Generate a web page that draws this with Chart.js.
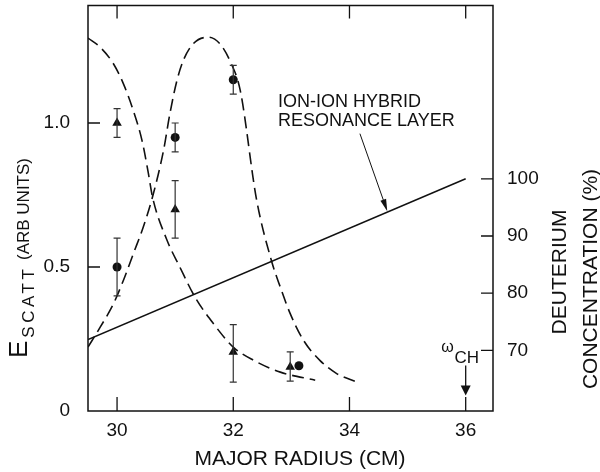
<!DOCTYPE html>
<html>
<head>
<meta charset="utf-8">
<script src="https://cdn.jsdelivr.net/npm/chart.js@4"></script>
<style>
  body { margin: 0; background: #fff; }
  canvas { display: block; }
</style>
</head>
<body>
<canvas id="chart" width="600" height="472"></canvas>
<script>
// tick values
const radiusTicks = [30, 32, 34, 36];
const escattTicks = [0, 0.5, 1.0];
const deutTicks = [70, 80, 90, 100];

// dashed curve falling from the left
const fallRadius = [29.5, 29.71, 29.94, 30.11, 30.28, 30.43, 30.54, 30.61, 30.86, 31.08, 31.34, 31.66, 32.0, 32.35, 32.81, 33.41];
const fallEscatt = [1.295, 1.263, 1.205, 1.136, 1.043, 0.939, 0.824, 0.743, 0.593, 0.5, 0.396, 0.303, 0.222, 0.176, 0.135, 0.107];

// dashed curve with the peak
const peakRadius = [29.5, 29.71, 29.94, 30.11, 30.28, 30.45, 30.61, 30.8, 30.91, 31.03, 31.14, 31.31, 31.57, 31.77, 31.94, 32.12, 32.4, 32.66, 32.81, 32.98, 33.21, 33.49, 33.78, 34.13];
const peakEscatt = [0.222, 0.291, 0.373, 0.454, 0.546, 0.638, 0.743, 0.905, 1.033, 1.147, 1.217, 1.275, 1.298, 1.275, 1.217, 1.113, 0.735, 0.52, 0.43, 0.338, 0.245, 0.176, 0.13, 0.10];

// solid line: deuterium concentration (right axis)
const deutRadius = [29.5, 36];
const deutConc = [71.9, 100];

// measured points
const circleRadius = [30, 31, 32, 33.13];
const circleEscatt = [0.50, 0.95, 1.15, 0.157];
const circleLow = [0.40, 0.90, 1.10, null];
const circleHigh = [0.60, 1.00, 1.20, null];

const triRadius = [30, 31, 32, 32.98];
const triEscatt = [1.00, 0.70, 0.205, 0.153];
const triLow = [0.95, 0.60, 0.10, 0.104];
const triHigh = [1.05, 0.80, 0.30, 0.205];

const ink = "#111";
const FONT = "'Liberation Sans', Arial, sans-serif";

const pts = (xs, ys) => xs.map((x, i) => ({ x: x, y: ys[i] }));

function arrow(ctx, x1, y1, x2, y2, len, half) {
    const a = Math.atan2(y2 - y1, x2 - x1);
    ctx.beginPath();
    ctx.moveTo(x1, y1);
    ctx.lineTo(x2 - Math.cos(a) * len * 0.8, y2 - Math.sin(a) * len * 0.8);
    ctx.stroke();
    ctx.beginPath();
    ctx.moveTo(x2, y2);
    ctx.lineTo(x2 - Math.cos(a) * len - Math.sin(a) * half, y2 - Math.sin(a) * len + Math.cos(a) * half);
    ctx.lineTo(x2 - Math.cos(a) * len + Math.sin(a) * half, y2 - Math.sin(a) * len - Math.cos(a) * half);
    ctx.closePath();
    ctx.fill();
}

const decor = {
    id: "decor",
    afterDatasetsDraw(chart) {
        const ctx = chart.ctx;
        const sx = chart.scales.x, sl = chart.scales.yL;
        ctx.save();
        ctx.strokeStyle = "#333";
        ctx.lineWidth = 1.2;
        const bars = (xs, lo, hi) => {
            xs.forEach((r, i) => {
                if (lo[i] == null) return;
                const px = sx.getPixelForValue(r);
                const y1 = sl.getPixelForValue(lo[i]);
                const y2 = sl.getPixelForValue(hi[i]);
                ctx.beginPath();
                ctx.moveTo(px, y1); ctx.lineTo(px, y2);
                ctx.moveTo(px - 3.5, y1); ctx.lineTo(px + 3.5, y1);
                ctx.moveTo(px - 3.5, y2); ctx.lineTo(px + 3.5, y2);
                ctx.stroke();
            });
        };
        bars(circleRadius, circleLow, circleHigh);
        bars(triRadius, triLow, triHigh);
        ctx.restore();
    },
    afterDraw(chart) {
        const ctx = chart.ctx;
        const { left, right, top, bottom } = chart.chartArea;
        const sx = chart.scales.x, sl = chart.scales.yL, sr = chart.scales.yR;
        ctx.save();
        ctx.strokeStyle = ink;
        ctx.fillStyle = ink;
        ctx.lineWidth = 1.5;
        ctx.strokeRect(left, top, right - left, bottom - top);

        // inward ticks
        ctx.lineWidth = 1.3;
        ctx.beginPath();
        radiusTicks.forEach(v => {
            const px = sx.getPixelForValue(v);
            ctx.moveTo(px, bottom); ctx.lineTo(px, bottom - 14);
            ctx.moveTo(px, top); ctx.lineTo(px, top + 13);
        });
        escattTicks.slice(1).forEach(v => {
            const py = sl.getPixelForValue(v);
            ctx.moveTo(left, py); ctx.lineTo(left + 12, py);
        });
        deutTicks.forEach(v => {
            const py = sr.getPixelForValue(v);
            ctx.moveTo(right, py); ctx.lineTo(right - 12, py);
        });
        ctx.stroke();

        // x title
        ctx.textAlign = "center";
        ctx.textBaseline = "alphabetic";
        ctx.font = "21px " + FONT;
        ctx.fillText("MAJOR RADIUS (CM)", 300, 465);

        // left title, rotated
        ctx.save();
        ctx.translate(27, 358);
        ctx.rotate(-Math.PI / 2);
        ctx.textAlign = "left";
        ctx.font = "26px " + FONT;
        ctx.fillText("E", 0, 0);
        let w = ctx.measureText("E").width + 3;
        ctx.font = "17px " + FONT;
        ctx.letterSpacing = "3.5px";
        ctx.fillText("SCATT", w, 7);
        ctx.letterSpacing = "0px";
        ctx.font = "17px " + FONT;
        ctx.fillText("(ARB UNITS)", 98, 2);
        ctx.restore();

        // right title, rotated
        ctx.save();
        ctx.rotate(-Math.PI / 2);
        ctx.textAlign = "center";
        ctx.font = "21px " + FONT;
        ctx.fillText("DEUTERIUM", -272, 566);
        ctx.fillText("CONCENTRATION (%)", -279, 597);
        ctx.restore();

        // resonance layer label and arrow
        ctx.textAlign = "left";
        ctx.font = "18px " + FONT;
        const lx = sx.getPixelForValue(32.77);
        ctx.fillText("ION-ION HYBRID", lx, sl.getPixelForValue(1.054));
        ctx.fillText("RESONANCE LAYER", lx, sl.getPixelForValue(0.99));
        ctx.lineWidth = 1;
        arrow(ctx, sx.getPixelForValue(34.18), sl.getPixelForValue(0.963),
            sx.getPixelForValue(34.65), sl.getPixelForValue(0.694), 12, 3);

        // omega_CH marker at 36 cm
        const ox = sx.getPixelForValue(36);
        const oy = sl.getPixelForValue(0.158);
        ctx.lineWidth = 1.3;
        arrow(ctx, ox, oy, ox, sl.getPixelForValue(0.054), 10, 5);
        ctx.textAlign = "center";
        ctx.font = "17px " + FONT;
        ctx.fillText("CH", ox + 1, oy - 2);
        ctx.textAlign = "right";
        ctx.font = "16px " + FONT;
        ctx.fillText("\u03c9", ox - 12, oy - 13);
        ctx.restore();
    }
};

const tickFont = { family: FONT, size: 19 };

// keep the plot box exactly where the reference has it
const noPad = s => { s.paddingTop = 0; s.paddingBottom = 0; s.paddingLeft = 0; s.paddingRight = 0; };

new Chart(document.getElementById("chart"), {
    type: "scatter",
    data: {
        datasets: [
            {
                data: pts(fallRadius, fallEscatt),
                yAxisID: "yL",
                showLine: true,
                borderColor: ink,
                borderWidth: 1.6,
                borderDash: [12, 6],
                cubicInterpolationMode: "monotone",
                pointRadius: 0
            },
            {
                data: pts(peakRadius, peakEscatt),
                yAxisID: "yL",
                showLine: true,
                borderColor: ink,
                borderWidth: 1.6,
                borderDash: [12, 6],
                cubicInterpolationMode: "monotone",
                pointRadius: 0
            },
            {
                data: pts(deutRadius, deutConc),
                yAxisID: "yR",
                showLine: true,
                borderColor: ink,
                borderWidth: 1.5,
                pointRadius: 0
            },
            {
                data: pts(circleRadius, circleEscatt),
                yAxisID: "yL",
                pointStyle: "circle",
                pointRadius: 4.5,
                pointBackgroundColor: ink,
                pointBorderWidth: 0
            },
            {
                data: pts(triRadius, triEscatt),
                yAxisID: "yL",
                pointStyle: "triangle",
                pointRadius: 5.5,
                pointBackgroundColor: ink,
                pointBorderWidth: 0
            }
        ]
    },
    options: {
        responsive: false,
        animation: false,
        layout: { padding: { top: 5, left: 0, right: 0, bottom: 0 } },
        plugins: {
            legend: { display: false },
            tooltip: { enabled: false }
        },
        scales: {
            x: {
                type: "linear",
                position: "bottom",
                min: 29.5,
                max: 36.47,
                afterBuildTicks: s => { s.ticks = radiusTicks.map(v => ({ value: v })); },
                afterFit: s => { s.height = 61; noPad(s); },
                grid: { display: false, drawTicks: false },
                border: { display: false },
                ticks: { font: tickFont, color: ink, padding: 8, maxRotation: 0 }
            },
            yL: {
                type: "linear",
                position: "left",
                min: 0,
                max: 1.408,
                afterBuildTicks: s => { s.ticks = escattTicks.map(v => ({ value: v })); },
                afterFit: s => { s.width = 88; noPad(s); },
                grid: { display: false, drawTicks: false },
                border: { display: false },
                ticks: {
                    font: tickFont, color: ink, padding: 18,
                    callback: v => v === 0 ? "0" : v.toFixed(1)
                }
            },
            yR: {
                type: "linear",
                position: "right",
                min: 59.4,
                max: 130.3,
                afterBuildTicks: s => { s.ticks = deutTicks.map(v => ({ value: v })); },
                afterFit: s => { s.width = 107; noPad(s); },
                grid: { display: false, drawTicks: false },
                border: { display: false },
                ticks: { font: tickFont, color: ink, padding: 14 }
            }
        }
    },
    plugins: [decor]
});
</script>
</body>
</html>
